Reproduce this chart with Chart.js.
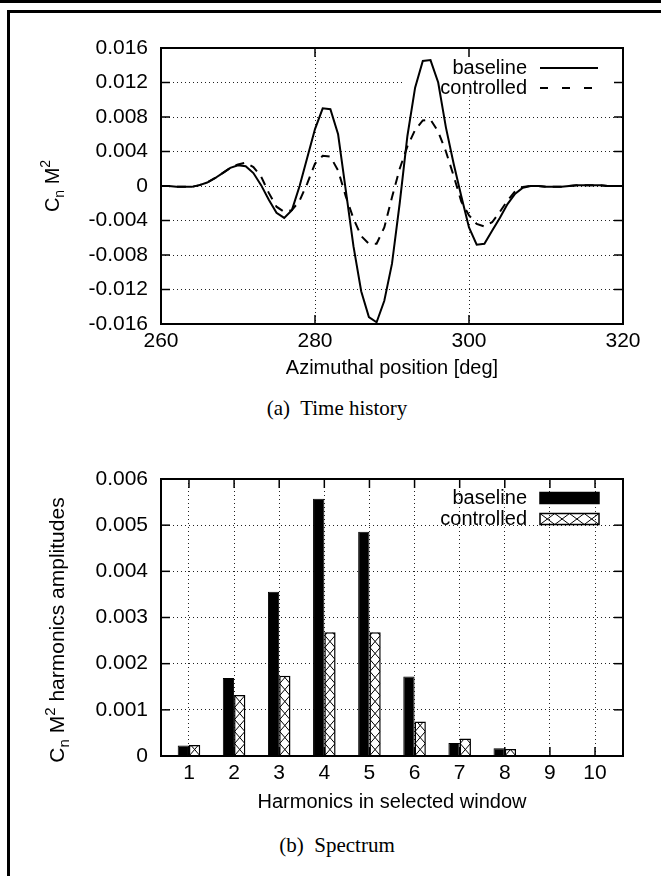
<!DOCTYPE html>
<html>
<head>
<meta charset="utf-8">
<script src="https://cdn.jsdelivr.net/npm/chart.js@4.4.1/dist/chart.umd.min.js"></script>
<style>
    html, body { margin: 0; padding: 0; background: #fff; }
    #page { position: relative; width: 661px; height: 876px; overflow: hidden; }
    .rule { position: absolute; left: 0; top: 0; width: 661px; height: 3px; background: #000; }
    .box { position: absolute; left: 7px; top: 10px; width: 660px; height: 870px; border-left: 3px solid #000; border-top: 3px solid #000; }
    canvas { position: absolute; left: 0; }
    .cap { position: absolute; left: 0; width: 674px; text-align: center; line-height: 24px;
           font-family: "Liberation Serif", "Times New Roman", serif; font-size: 21px; color: #000; }
</style>
</head>
<body>
<div id="page">
    <div class="rule"></div>
    <div class="box"></div>
    <canvas id="timeChart" width="661" height="380" style="top:0"></canvas>
    <div class="cap" style="top:396px">(a)&nbsp; Time history</div>
    <canvas id="specChart" width="661" height="385" style="top:430px"></canvas>
    <div class="cap" style="top:833px">(b)&nbsp; Spectrum</div>
</div>
<script>
// (a) time history, one sample per degree
const azimuthDeg = [260, 261, 262, 263, 264, 265, 266, 267, 268, 269,
    270, 271, 272, 273, 274, 275, 276, 277, 278, 279,
    280, 281, 282, 283, 284, 285, 286, 287, 288, 289,
    290, 291, 292, 293, 294, 295, 296, 297, 298, 299,
    300, 301, 302, 303, 304, 305, 306, 307, 308, 309,
    310, 311, 312, 313, 314, 315, 316, 317, 318, 319, 320];
const baselineCn = [0, 0, -0.0001, -0.0001, -0.0001, 0.0001, 0.0004, 0.0009, 0.0015, 0.0021,
    0.0024, 0.0023, 0.0015, 0.0001, -0.0016, -0.0031, -0.0037, -0.0028, 0.0000, 0.0033,
    0.0066, 0.0090, 0.0089, 0.0060, -0.0005, -0.0070, -0.0122, -0.0152, -0.0158, -0.0133,
    -0.0090, -0.0020, 0.0058, 0.0114, 0.0145, 0.0146, 0.0120, 0.0068, 0.0026, -0.0012,
    -0.0048, -0.0068, -0.0067, -0.0052, -0.0037, -0.0021, -0.0009, -0.0002, 0.0000, 0.0000,
    -0.0001, -0.0001, -0.0001, 0.0000, 0.0001, 0.0001, 0.0001, 0.0001, 0.0000, 0.0000, 0.0000];
const controlledCn = [0, 0, -0.0001, -0.0001, -0.0001, 0.0001, 0.0004, 0.0009, 0.0015, 0.0021,
    0.0025, 0.0027, 0.0022, 0.0011, -0.0008, -0.0024, -0.0030, -0.0028, -0.0017, 0.0003,
    0.0026, 0.0035, 0.0034, 0.0018, -0.0012, -0.0038, -0.0058, -0.0067, -0.0067, -0.0048,
    -0.0013, 0.0020, 0.0046, 0.0065, 0.0076, 0.0077, 0.0063, 0.0040, 0.0012, -0.0018,
    -0.0034, -0.0044, -0.0047, -0.0042, -0.0030, -0.0017, -0.0006, -0.0001, 0.0000, 0.0000,
    -0.0001, -0.0001, -0.0001, 0.0000, 0.0001, 0.0001, 0.0001, 0.0001, 0.0000, 0.0000, 0.0000];
const timeTicksX = [260, 280, 300, 320];
const timeTicksY = [-0.016, -0.012, -0.008, -0.004, 0, 0.004, 0.008, 0.012, 0.016];

// (b) spectrum
const harmonics = [1, 2, 3, 4, 5, 6, 7, 8, 9, 10];
const baselineAmp = [0.00023, 0.00169, 0.00356, 0.00557, 0.00486, 0.00172, 0.00028, 0.00017, 0.00001, 0.00001];
const controlledAmp = [0.00024, 0.00132, 0.00174, 0.00268, 0.00268, 0.00075, 0.00038, 0.00015, 0.00001, 0.00001];
const specTicksY = [0, 0.001, 0.002, 0.003, 0.004, 0.005, 0.006];

Chart.defaults.font.family = '"Liberation Sans", Arial, sans-serif';
Chart.defaults.font.size = 20;
Chart.defaults.color = '#000';

const FONT = '"Liberation Sans", Arial, sans-serif';
const fmtY = v => v === 0 ? '0' : v.toFixed(3);

function line(ctx, x1, y1, x2, y2) {
    ctx.beginPath(); ctx.moveTo(x1, y1); ctx.lineTo(x2, y2); ctx.stroke();
}

// rotated axis title with sub/superscripts: parts = [text, size, shift]
function drawVerticalTitle(ctx, parts, x, yc) {
    ctx.save();
    let total = 0;
    parts.forEach(p => { ctx.font = p[1] + 'px ' + FONT; total += ctx.measureText(p[0]).width; });
    ctx.translate(x, yc);
    ctx.rotate(-Math.PI / 2);
    ctx.fillStyle = '#000';
    ctx.textBaseline = 'alphabetic';
    let cx = -total / 2;
    parts.forEach(p => {
        ctx.font = p[1] + 'px ' + FONT;
        ctx.fillText(p[0], cx, p[2]);
        cx += ctx.measureText(p[0]).width;
    });
    ctx.restore();
}

function hatchRect(ctx, l, t, r, b, stepX, stepY) {
    ctx.save();
    ctx.beginPath(); ctx.rect(l, t, r - l, b - t); ctx.clip();
    ctx.lineWidth = 1;
    ctx.strokeStyle = '#000';
    if (stepX) {
        for (let x = l; x < r; x += stepX) {
            line(ctx, x, t, x + stepX, b);
            line(ctx, x + stepX, t, x, b);
        }
    } else {
        for (let y = b; y > t - stepY; y -= stepY) {
            line(ctx, l, y, r, y - stepY);
            line(ctx, r, y, l, y - stepY);
        }
    }
    ctx.restore();
}

// gnuplot-like frame: white key box, inward ticks, border, y title, key
function framePlugin(cfg) {
    return {
        id: 'frame',
        beforeDatasetsDraw(chart) {
            const ctx = chart.ctx, k = cfg.keyBox;
            ctx.save();
            ctx.fillStyle = '#fff';
            ctx.fillRect(k[0], k[1], k[2], k[3]);
            ctx.restore();
        },
        afterDatasetsDraw(chart) {
            const { ctx, chartArea: a, scales } = chart;
            ctx.save();
            if (cfg.hatch) {
                chart.getDatasetMeta(1).data.forEach(el => {
                    const p = el.getProps(['x', 'y', 'base', 'width'], true);
                    if (p.base - p.y < 2) return;
                    hatchRect(ctx, p.x - p.width / 2 + 0.5, p.y + 0.5, p.x + p.width / 2 - 0.5, p.base, 0, 12);
                });
            }
            ctx.strokeStyle = '#000';
            ctx.setLineDash([]);
            ctx.lineWidth = 1.5;
            const tl = 9;
            scales.x.ticks.forEach(t => {
                const px = scales.x.getPixelForValue(t.value);
                if (px <= a.left + 1 || px >= a.right - 1) return;
                line(ctx, px, a.top, px, a.top + tl);
                line(ctx, px, a.bottom, px, a.bottom - tl);
            });
            scales.y.ticks.forEach(t => {
                const py = scales.y.getPixelForValue(t.value);
                if (py <= a.top + 1 || py >= a.bottom - 1) return;
                line(ctx, a.left, py, a.left + tl, py);
                line(ctx, a.right, py, a.right - tl, py);
            });
            ctx.lineWidth = 2;
            ctx.strokeRect(a.left, a.top, a.right - a.left, a.bottom - a.top);

            drawVerticalTitle(ctx, cfg.yTitle, cfg.yTitleX, cfg.yTitleY);

            // key
            ctx.font = '20px ' + FONT;
            ctx.fillStyle = '#000';
            ctx.textAlign = 'right';
            ctx.textBaseline = 'middle';
            cfg.key.forEach(k => {
                ctx.fillText(k.text, 527, k.y);
                ctx.lineWidth = 2;
                if (k.kind === 'solid' || k.kind === 'dash') {
                    ctx.setLineDash(k.kind === 'dash' ? [8, 14] : []);
                    line(ctx, 540, k.y, 598, k.y);
                    ctx.setLineDash([]);
                } else {
                    ctx.lineWidth = 1.5;
                    if (k.kind === 'fill') {
                        ctx.fillRect(540, k.y - 5.5, 59, 11);
                    } else {
                        hatchRect(ctx, 540, k.y - 5.5, 599, k.y + 5.5, 14.75, 0);
                    }
                    ctx.lineWidth = 1.5;
                    ctx.strokeRect(540, k.y - 5.5, 59, 11);
                }
            });
            ctx.restore();
        }
    };
}

const gridDotted = { color: '#222', lineWidth: 1, drawTicks: false };
const borderDotted = { display: false, dash: [1, 3] };
const tickFont = { size: 21 };

// (a) Time history
new Chart(document.getElementById('timeChart'), {
    type: 'line',
    data: {
        datasets: [{
            label: 'baseline',
            data: azimuthDeg.map((a, i) => ({ x: a, y: baselineCn[i] })),
            borderColor: '#000', borderWidth: 2, pointRadius: 0, tension: 0, fill: false
        }, {
            label: 'controlled',
            data: azimuthDeg.map((a, i) => ({ x: a, y: controlledCn[i] })),
            borderColor: '#000', borderWidth: 2, borderDash: [9, 7], pointRadius: 0, tension: 0, fill: false
        }]
    },
    options: {
        responsive: false, animation: false, events: [],
        layout: { padding: { top: 48, right: 38, left: 0, bottom: 0 } },
        plugins: { legend: { display: false }, tooltip: { enabled: false } },
        scales: {
            x: {
                type: 'linear', min: 260, max: 320,
                afterBuildTicks: s => { s.ticks = timeTicksX.map(v => ({ value: v })); },
                afterFit: s => { s.height = 56; },
                grid: gridDotted, border: borderDotted,
                ticks: { padding: 5, font: tickFont, autoSkip: false, maxRotation: 0, callback: v => String(v) },
                title: { display: true, text: 'Azimuthal position [deg]', padding: { top: 0, bottom: 0 } }
            },
            y: {
                type: 'linear', min: -0.016, max: 0.016,
                afterBuildTicks: s => { s.ticks = timeTicksY.map(v => ({ value: v })); },
                afterFit: s => { s.width = 161; },
                grid: gridDotted, border: borderDotted,
                ticks: { padding: 13, font: tickFont, autoSkip: false, callback: fmtY }
            }
        }
    },
    plugins: [framePlugin({
        keyBox: [403, 49, 220, 45],
        yTitle: [['C', 20, 0], ['n', 14, 5], [' M', 20, 0], ['2', 14, -9]],
        yTitleX: 59, yTitleY: 186,
        key: [{ text: 'baseline', y: 68, kind: 'solid' }, { text: 'controlled', y: 88, kind: 'dash' }]
    })]
});

// (b) Spectrum
new Chart(document.getElementById('specChart'), {
    type: 'bar',
    data: {
        datasets: [{
            label: 'baseline',
            data: harmonics.map((h, i) => ({ x: h, y: baselineAmp[i] })),
            backgroundColor: '#000', borderColor: '#000', borderWidth: 1,
            categoryPercentage: 0.5, barPercentage: 1
        }, {
            label: 'controlled',
            data: harmonics.map((h, i) => ({ x: h, y: controlledAmp[i] })),
            backgroundColor: '#fff', borderColor: '#000', borderWidth: 1.5,
            categoryPercentage: 0.5, barPercentage: 1
        }]
    },
    options: {
        responsive: false, animation: false, events: [],
        layout: { padding: { top: 49, right: 38, left: 0, bottom: 0 } },
        plugins: { legend: { display: false }, tooltip: { enabled: false } },
        scales: {
            x: {
                type: 'linear', min: 0.38, max: 10.62, offset: false,
                afterBuildTicks: s => { s.ticks = harmonics.map(v => ({ value: v })); },
                afterFit: s => { s.height = 59; },
                grid: Object.assign({ offset: false }, gridDotted), border: borderDotted,
                ticks: { padding: 5, font: tickFont, autoSkip: false, maxRotation: 0, callback: v => String(v) },
                title: { display: true, text: 'Harmonics in selected window', padding: { top: 0, bottom: 1 } }
            },
            y: {
                type: 'linear', min: 0, max: 0.006,
                afterBuildTicks: s => { s.ticks = specTicksY.map(v => ({ value: v })); },
                afterFit: s => { s.width = 161; },
                grid: gridDotted, border: borderDotted,
                ticks: { padding: 13, font: tickFont, autoSkip: false, callback: fmtY }
            }
        }
    },
    plugins: [framePlugin({
        hatch: true,
        keyBox: [403, 480, 220, 50],
        yTitle: [['C', 21, 0], ['n', 15, 5], [' M', 21, 0], ['2', 15, -9], [' harmonics amplitudes', 21, 0]],
        yTitleX: 64, yTitleY: 200,
        key: [{ text: 'baseline', y: 68, kind: 'fill' }, { text: 'controlled', y: 89, kind: 'hatch' }]
    })]
});
</script>
</body>
</html>
